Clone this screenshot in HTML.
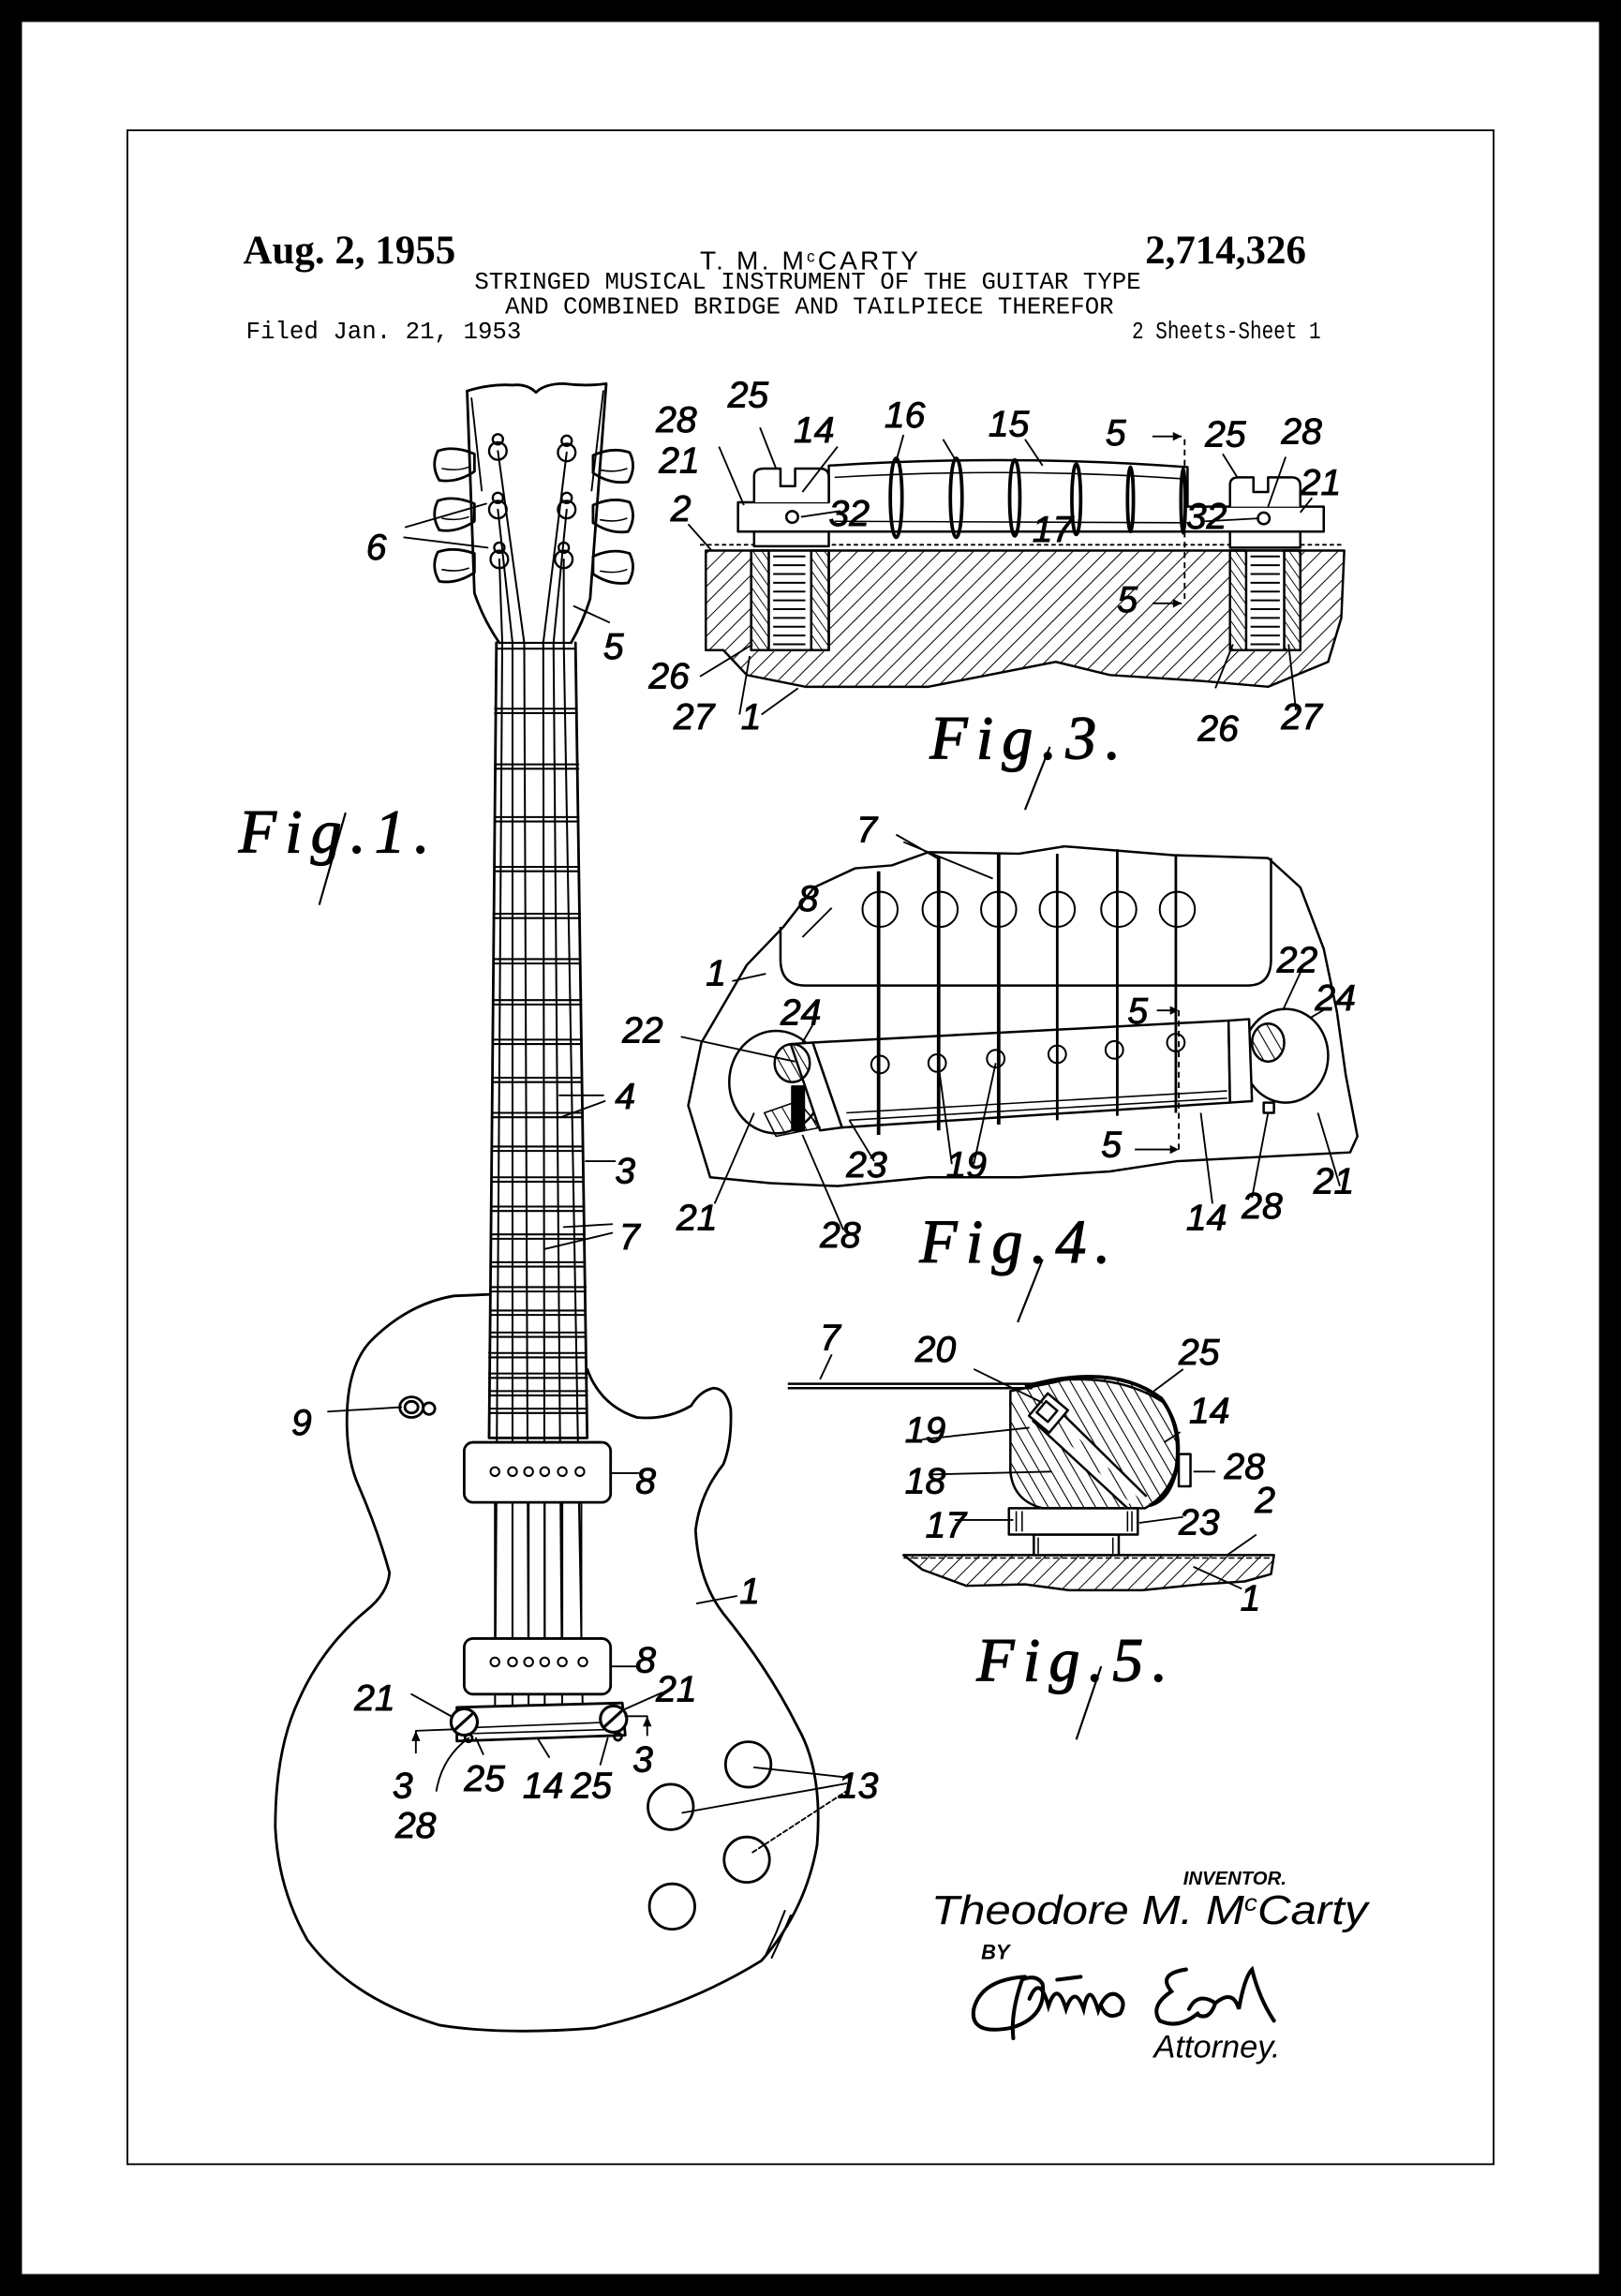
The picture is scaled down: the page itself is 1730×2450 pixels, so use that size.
<!DOCTYPE html>
<html><head><meta charset="utf-8"><style>
html,body{margin:0;padding:0;background:#000;}
svg{display:block;}
.l{font-family:"Liberation Sans",sans-serif;font-style:italic;font-size:25px;fill:#000;stroke:#000;stroke-width:0.6;}
.m{font-family:"Liberation Mono",monospace;font-size:16.5px;fill:#000;}
.fig{font-family:"Liberation Serif",serif;font-style:italic;font-size:42px;fill:#000;stroke:#000;stroke-width:0.8;letter-spacing:6px;}
</style></head><body>
<svg width="1730" height="2450" viewBox="0 0 1107 1568" preserveAspectRatio="none" xmlns="http://www.w3.org/2000/svg">
<defs>
<pattern id="h" patternUnits="userSpaceOnUse" width="8" height="8" patternTransform="rotate(45)"><line x1="0" y1="0" x2="0" y2="8" stroke="#000" stroke-width="1.3"/></pattern>
<pattern id="h2" patternUnits="userSpaceOnUse" width="5" height="5" patternTransform="rotate(-35)"><line x1="0" y1="0" x2="0" y2="5" stroke="#000" stroke-width="1.2"/></pattern>
<pattern id="h3" patternUnits="userSpaceOnUse" width="7" height="7" patternTransform="rotate(-30)"><line x1="0" y1="0" x2="0" y2="7" stroke="#000" stroke-width="1.4"/></pattern>
</defs>
<rect x="0" y="0" width="1107" height="1568" fill="#000"/>
<rect x="15" y="15" width="1077" height="1538" fill="#fff"/>
<rect x="87" y="89" width="933" height="1389" fill="none" stroke="#000" stroke-width="1.2"/>

<!-- header -->
<text x="166" y="180" font-family="Liberation Serif,serif" font-weight="bold" font-size="27.5">Aug. 2, 1955</text>
<text x="478" y="184" font-family="Liberation Sans,sans-serif" font-size="18" letter-spacing="2">T. M. M<tspan font-size="11" dy="-5">c</tspan><tspan dy="5">CARTY</tspan></text>
<text x="782" y="180" font-family="Liberation Serif,serif" font-weight="bold" font-size="27.5">2,714,326</text>
<text class="m" x="324" y="197">STRINGED MUSICAL INSTRUMENT OF THE GUITAR TYPE</text>
<text class="m" x="345" y="214">AND COMBINED BRIDGE AND TAILPIECE THEREFOR</text>
<text class="m" x="168" y="231">Filed Jan. 21, 1953</text>
<text class="m" x="773" y="231" textLength="129" lengthAdjust="spacingAndGlyphs">2 Sheets-Sheet 1</text>

<!-- ================= FIG 1 guitar ================= -->
<g fill="none" stroke="#000" stroke-width="1.8" stroke-linejoin="round" stroke-linecap="round">
<path d="M319,267 Q335,262 350,263 Q360,262 366,268 Q372,262 385,262 Q400,264 414,262 L403,409 Q398,425 390,439 M319,267 L324,405 Q330,423 341,439" />
<path d="M322,272 L329,335 M412,267 L404,335" stroke-width="1.2"/>
<path d="M324,310 Q310,304 299,308 Q294,318 300,328 Q312,330 324,322 Z"/>
<path d="M324,344 Q310,338 299,342 Q294,352 300,362 Q312,364 324,356 Z"/>
<path d="M324,378 Q310,373 299,377 Q294,387 300,397 Q312,399 324,391 Z"/>
<path d="M405,311 Q418,305 430,309 Q435,319 429,329 Q417,331 405,323 Z"/>
<path d="M405,345 Q418,339 430,343 Q435,353 429,363 Q417,365 405,357 Z"/>
<path d="M405,380 Q418,374 430,378 Q435,388 429,398 Q417,400 405,392 Z"/>
<path d="M302,320 Q312,322 320,319 M302,354 Q312,356 320,353 M302,389 Q312,391 320,388 M410,321 Q420,323 428,320 M410,355 Q420,357 428,354 M410,390 Q420,392 428,389" stroke-width="1"/>
<g stroke-width="1.5">
<circle cx="340" cy="308" r="6"/><circle cx="340" cy="300" r="3.5"/>
<circle cx="340" cy="348" r="6"/><circle cx="340" cy="340" r="3.5"/>
<circle cx="341" cy="382" r="6"/><circle cx="341" cy="374" r="3.5"/>
<circle cx="387" cy="309" r="6"/><circle cx="387" cy="301" r="3.5"/>
<circle cx="387" cy="348" r="6"/><circle cx="387" cy="340" r="3.5"/>
<circle cx="385" cy="382" r="6"/><circle cx="385" cy="374" r="3.5"/>
</g>
<path d="M339,439 L334,982 M393,439 L401,982 M334,982 L401,982"/>
<path d="M341,439 L390,439 M339,443 L393,443" stroke-width="1.4"/>
<g stroke-width="1.3">
<path d="M338,484H394M338,487H394M338,522H395M338,525H395M338,558H395M338,561H395M338,592H395M338,595H395M337,624H396M337,627H396M337,655H396M337,658H396M337,683H397M337,686H397M337,710H397M337,713H397M337,736H397M337,739H397M336,760H398M336,763H398M336,783H398M336,786H398M336,804H398M336,807H398M336,824H399M336,827H399M335,843H399M335,846H399M335,862H399M335,865H399M335,879H400M335,882H400M335,895H400M335,898H400M335,910H400M335,913H400M334,924H400M334,927H400M334,938H401M334,941H401M334,950H401M334,953H401M334,962H401M334,965H401"/>
</g>
<g stroke-width="1.3">
<path d="M341,382 L343,439 L338,1172"/>
<path d="M340,348 L350,439 L350,1172"/>
<path d="M340,308 L358,439 L361,1172"/>
<path d="M387,309 L371,439 L372,1172"/>
<path d="M387,348 L378,439 L384,1172"/>
<path d="M385,382 L385,439 L398,1172"/>
</g>
<path d="M334,884 L310,885 Q280,890 255,914 Q238,930 237,965 Q236,995 245,1015 Q258,1045 266,1074 Q265,1088 250,1100 Q220,1125 204,1161 Q188,1195 188,1248 Q190,1290 210,1325 Q240,1365 300,1383 Q343,1390 406,1385 Q470,1370 520,1339 Q550,1305 558,1260 Q562,1210 545,1180 Q525,1140 494,1102 Q477,1080 475,1045 Q478,1020 494,1000 Q500,985 499,962 Q496,948 487,948 Q478,950 472,960 Q455,970 435,968 Q410,960 401,935"/>
<rect x="317" y="985" width="100" height="41" rx="6" fill="#fff"/>
<rect x="317" y="1119" width="100" height="38" rx="6" fill="#fff"/>
<g stroke-width="1.3" fill="#fff">
<circle cx="338" cy="1005" r="3"/><circle cx="350" cy="1005" r="3"/><circle cx="361" cy="1005" r="3"/><circle cx="372" cy="1005" r="3"/><circle cx="384" cy="1005" r="3"/><circle cx="396" cy="1005" r="3"/>
<circle cx="338" cy="1135" r="3"/><circle cx="350" cy="1135" r="3"/><circle cx="361" cy="1135" r="3"/><circle cx="372" cy="1135" r="3"/><circle cx="384" cy="1135" r="3"/><circle cx="398" cy="1135" r="3"/>
</g>
<path d="M338,1026V1119M350,1026V1119M361,1026V1119M372,1026V1119M384,1026V1119M397,1026V1119" stroke-width="1.3"/>
<path d="M312,1166 L425,1163 L427,1185 L312,1189 Z" fill="#fff"/>
<path d="M318,1180 L420,1176 M318,1184 L420,1181" stroke-width="1"/>
<circle cx="317" cy="1176" r="9" fill="#fff" stroke-width="2"/>
<circle cx="419" cy="1174" r="9" fill="#fff" stroke-width="2"/>
<path d="M311,1181 L322,1171 M413,1179 L424,1169" stroke-width="2"/>
<circle cx="320" cy="1187" r="2.5"/><circle cx="422" cy="1186" r="2.5"/>
<ellipse cx="281" cy="961" rx="8" ry="7"/><ellipse cx="281" cy="961" rx="4.5" ry="4"/><circle cx="293" cy="962" r="4"/>
<circle cx="511" cy="1205" r="15.5"/><circle cx="458" cy="1234" r="15.5"/><circle cx="510" cy="1270" r="15.5"/><circle cx="459" cy="1302" r="15.5"/>
<path d="M523,1335 L530,1320 L536,1305 M527,1337 L534,1322 L540,1308" stroke-width="1.3"/>
<g stroke-width="1.2">
<path d="M277,360 L332,344 M276,367 L333,374"/>
<path d="M392,414 L416,425"/>
<path d="M382,748 L412,748 M383,763 L413,752"/>
<path d="M400,793 L420,793"/>
<path d="M385,838 L418,836 M372,853 L418,842"/>
<path d="M224,964 L274,961"/>
<path d="M417,1006 L436,1006 M417,1138 L436,1138"/>
<path d="M476,1095 L503,1090"/>
<path d="M281,1157 L308,1172 M425,1168 L452,1156"/>
<path d="M284,1182 L310,1181 M284,1182 L284,1197"/>
<path d="M427,1172 L442,1172 L442,1185"/>
<path d="M320,1187 Q302,1200 298,1223 M325,1187 L330,1198 M367,1187 L375,1200 M415,1187 L410,1205"/>
<path d="M515,1207 L580,1214 M466,1238 L578,1218"/>
<path d="M514,1265 L580,1222" stroke-dasharray="3,2"/>
</g>
</g>
<path d="M284,1182 l-3,7 h6 z M442,1172 l-3,7 h6 z" fill="#000"/>
<text class="l" x="250" y="382">6</text>
<text class="l" x="412" y="450">5</text>
<text class="l" x="420" y="757">4</text>
<text class="l" x="420" y="808">3</text>
<text class="l" x="423" y="853">7</text>
<text class="l" x="199" y="980">9</text>
<text class="l" x="434" y="1020">8</text>
<text class="l" x="434" y="1142">8</text>
<text class="l" x="505" y="1095">1</text>
<text class="l" x="242" y="1168">21</text>
<text class="l" x="448" y="1162">21</text>
<text class="l" x="268" y="1228">3</text>
<text class="l" x="317" y="1223">25</text>
<text class="l" x="357" y="1228">14</text>
<text class="l" x="390" y="1228">25</text>
<text class="l" x="432" y="1210">3</text>
<text class="l" x="270" y="1255">28</text>
<text class="l" x="572" y="1228">13</text>
<text class="fig" x="163" y="582">Fig.1.</text>
<path d="M236,555 L218,618" stroke="#000" stroke-width="1.4"/>

<!-- ================= FIG 3 ================= -->
<g stroke="#000" stroke-width="1.6" fill="none" stroke-linejoin="round">
<path d="M482,376 L918,376 L916,422 L907,452 L866,469 L820,465 L758,461 L721,452 L634,469 L550,469 L510,461 L494,444 L482,444 Z" fill="url(#h)"/>
<path d="M478,372 L918,372" stroke-dasharray="3,2" stroke-width="1.2"/>
<rect x="513" y="376" width="53" height="68" fill="#fff"/>
<rect x="513" y="376" width="12" height="68" fill="url(#h2)"/>
<rect x="554" y="376" width="12" height="68" fill="url(#h2)"/>
<rect x="840" y="376" width="48" height="68" fill="#fff"/>
<rect x="840" y="376" width="11" height="68" fill="url(#h2)"/>
<rect x="877" y="376" width="11" height="68" fill="url(#h2)"/>
<path d="M528,380h22M528,386h22M528,392h22M528,398h22M528,404h22M528,410h22M528,416h22M528,422h22M528,428h22M528,434h22M528,440h22M854,380h20M854,386h20M854,392h20M854,398h20M854,404h20M854,410h20M854,416h20M854,422h20M854,428h20M854,434h20M854,440h20" stroke-width="1.3"/>
<rect x="515" y="363" width="51" height="10" fill="#fff"/>
<rect x="840" y="363" width="48" height="11" fill="#fff"/>
<path d="M566,318 Q690,310 811,319 L811,346 L904,346 L904,363 L504,363 L504,343 L566,343 Z" fill="#fff"/>
<path d="M570,326 Q690,319 808,327 M570,356 L808,357" stroke-width="1"/>
<path d="M515,343 L515,325 Q515,320 522,320 L533,320 L533,332 L543,332 L543,320 L560,320 Q566,320 566,326 L566,343" fill="#fff"/>
<path d="M840,346 L840,331 Q840,326 846,326 L856,326 L856,336 L866,336 L866,326 L882,326 Q888,326 888,332 L888,346" fill="#fff"/>
<circle cx="541" cy="353" r="4"/><circle cx="863" cy="354" r="4"/>
<g stroke-width="2.4">
<ellipse cx="612" cy="340" rx="4" ry="27"/>
<ellipse cx="653" cy="340" rx="4" ry="27"/>
<ellipse cx="693" cy="340" rx="3.5" ry="26"/>
<ellipse cx="735" cy="341" rx="3" ry="24"/>
<ellipse cx="772" cy="341" rx="2" ry="22"/>
<ellipse cx="808" cy="342" rx="1.5" ry="22"/>
</g>
<path d="M809,300 L809,411" stroke-dasharray="4,3" stroke-width="1.2"/>
<path d="M787,298 L807,298 M787,412 L807,412" stroke-width="1.2"/>
<g stroke-width="1.2">
<path d="M491,305 L508,345 M519,292 L530,320 M572,305 L548,336 M617,297 L612,315 M644,300 L653,315 M700,300 L712,318 M470,358 L486,376 M547,353 L574,349 M835,310 L845,326 M878,312 L866,346 M896,340 L888,350 M823,356 L860,354 M478,462 L514,440 M505,488 L512,448 M520,488 L545,470 M830,470 L842,440 M885,485 L880,440"/>
</g>
</g>
<path d="M807,298 l-6,-3 v6 z M807,412 l-6,-3 v6 z" fill="#000"/>
<text class="l" x="448" y="295">28</text>
<text class="l" x="497" y="278">25</text>
<text class="l" x="542" y="302">14</text>
<text class="l" x="604" y="292">16</text>
<text class="l" x="675" y="298">15</text>
<text class="l" x="755" y="304" font-size="20">5</text>
<text class="l" x="823" y="305">25</text>
<text class="l" x="875" y="303">28</text>
<text class="l" x="450" y="323">21</text>
<text class="l" x="888" y="338">21</text>
<text class="l" x="458" y="356">2</text>
<text class="l" x="566" y="359" font-size="20">32</text>
<text class="l" x="810" y="361" font-size="18">32</text>
<text class="l" x="705" y="370" font-size="16">17</text>
<text class="l" x="763" y="418" font-size="20">5</text>
<text class="l" x="443" y="470">26</text>
<text class="l" x="460" y="498">27</text>
<text class="l" x="506" y="498">1</text>
<text class="l" x="818" y="506">26</text>
<text class="l" x="875" y="498">27</text>
<text class="fig" x="635" y="518">Fig.3.</text>
<path d="M717,510 L700,553" stroke="#000" stroke-width="1.4"/>

<!-- ================= FIG 4 ================= -->
<g stroke="#000" stroke-width="1.6" fill="none" stroke-linejoin="round">
<path d="M485,804 L470,755 L479,712 L510,659 L535,633 L556,606 L584,593 L609,591 L634,582 L696,583 L727,578 L801,584 L866,586 L888,606 L904,648 L913,691 L919,734 L927,776 L922,787 L882,789 L804,793 L758,800 L696,804 L634,804 L572,810 L526,808 Z"/>
<path d="M533,633 L533,655 Q533,673 550,673 L852,673 Q868,673 868,655 L868,586"/>
<g stroke-width="1.3">
<ellipse cx="601" cy="621" rx="12" ry="12"/><ellipse cx="642" cy="621" rx="12" ry="12"/><ellipse cx="682" cy="621" rx="12" ry="12"/><ellipse cx="722" cy="621" rx="12" ry="12"/><ellipse cx="764" cy="621" rx="12" ry="12"/><ellipse cx="804" cy="621" rx="12" ry="12"/>
</g>
<ellipse cx="530" cy="739" rx="32" ry="35" fill="#fff"/>
<ellipse cx="878" cy="721" rx="29" ry="32" fill="#fff"/>
<path d="M555,712 L839,697 L840,753 L575,770 Z" fill="#fff"/>
<path d="M540,713 L555,712 L575,770 L560,772 Z" fill="#fff"/>
<path d="M839,697 L853,696 L855,752 L840,753 Z" fill="#fff"/>
<ellipse cx="541" cy="726" rx="12" ry="13" fill="url(#h3)"/>
<ellipse cx="866" cy="712" rx="11" ry="13" fill="url(#h3)"/>
<path d="M522,760 L545,752 L560,770 L530,776 Z" fill="url(#h3)" stroke-width="1"/>
<rect x="541" y="742" width="8" height="30" fill="#000"/>
<rect x="863" y="753" width="7" height="7" fill="#fff"/>
<g stroke-width="1.3" fill="#fff">
<ellipse cx="601" cy="727" rx="6" ry="6"/><ellipse cx="640" cy="726" rx="6" ry="6"/><ellipse cx="680" cy="723" rx="6" ry="6"/><ellipse cx="722" cy="720" rx="6" ry="6"/><ellipse cx="761" cy="717" rx="6" ry="6"/><ellipse cx="803" cy="712" rx="6" ry="6"/>
</g>
<path d="M578,760 L838,745 M580,765 L838,750" stroke-width="1"/>
<g stroke-width="2.4">
<path d="M600,595 V775 M641,585 V772 M682,583 V768"/>
</g>
<g stroke-width="1.8">
<path d="M722,583 V765 M763,580 V762 M803,584 V760"/>
</g>
<path d="M805,690 L805,785" stroke-dasharray="4,3" stroke-width="1.2"/>
<g stroke-width="1.2">
<path d="M612,570 L640,586 M617,575 L678,600 M568,620 L548,640 M500,670 L523,665 M465,708 L543,725 M555,700 L548,712 M890,660 L876,690 M907,688 L895,695 M790,690 L803,690 M775,785 L803,785 M597,793 L580,765 M650,795 L641,728 M665,795 L680,726 M488,822 L515,760 M576,840 L548,775 M828,822 L820,760 M855,818 L866,760 M915,810 L900,760"/>
</g>
</g>
<path d="M805,690 l-6,-3 v6 z M805,785 l-6,-3 v6 z" fill="#000"/>
<text class="l" x="585" y="575">7</text>
<text class="l" x="545" y="622">8</text>
<text class="l" x="482" y="673">1</text>
<text class="l" x="425" y="712">22</text>
<text class="l" x="533" y="700">24</text>
<text class="l" x="872" y="664">22</text>
<text class="l" x="898" y="690">24</text>
<text class="l" x="770" y="699" font-size="20">5</text>
<text class="l" x="578" y="804">23</text>
<text class="l" x="646" y="804">19</text>
<text class="l" x="752" y="790" font-size="20">5</text>
<text class="l" x="462" y="840">21</text>
<text class="l" x="560" y="852">28</text>
<text class="l" x="810" y="840">14</text>
<text class="l" x="848" y="832">28</text>
<text class="l" x="897" y="815">21</text>
<text class="fig" x="628" y="862">Fig.4.</text>
<path d="M712,860 L695,903" stroke="#000" stroke-width="1.4"/>

<!-- ================= FIG 5 ================= -->
<g stroke="#000" stroke-width="1.6" fill="none" stroke-linejoin="round">
<path d="M617,1062 L870,1062 L868,1075 L850,1080 L820,1082 L780,1086 L730,1086 L700,1082 L660,1083 L630,1072 Z" fill="url(#h)"/>
<path d="M617,1064 L868,1064" stroke-dasharray="4,2" stroke-width="1"/>
<rect x="706" y="1048" width="58" height="14" fill="#fff"/>
<rect x="689" y="1030" width="88" height="18" fill="#fff"/>
<path d="M694,1032V1046M698,1032V1046M770,1032V1046M773,1032V1046M709,1050V1061M760,1050V1061" stroke-width="1"/>
<path d="M690,958 L690,1005 Q692,1025 712,1030 L782,1030 Q803,1018 805,990 Q805,958 778,946 Q748,936 720,944 L690,950 Z" fill="url(#h3)"/>
<path d="M700,947 Q760,930 793,955 Q808,975 803,1005 Q798,1025 785,1028" stroke-width="2.5"/>
<path d="M708,968 L770,1028 M716,958 L780,1022" stroke="#fff" stroke-width="5"/>
<path d="M705,970 L770,1030 M718,958 L783,1022" stroke-width="1.6"/>
<rect x="707" y="955" width="18" height="20" transform="rotate(40 716 965)" fill="#fff"/>
<rect x="710" y="959" width="10" height="10" transform="rotate(40 715 964)"/>
<rect x="805" y="993" width="8" height="22" fill="#fff"/>
<path d="M538,945 L705,945 Q760,935 795,958 M538,948 L705,948" stroke-width="1.6"/>
<g stroke-width="1.2">
<path d="M560,942 L568,925 M665,935 L712,958 M788,950 L808,935 M630,983 L703,975 M806,978 L795,985 M634,1007 L718,1005 M815,1005 L830,1005 M652,1038 L692,1038 M778,1040 L808,1036 M838,1062 L858,1048 M815,1070 L848,1085"/>
</g>
</g>
<text class="l" x="560" y="922">7</text>
<text class="l" x="625" y="930">20</text>
<text class="l" x="805" y="932">25</text>
<text class="l" x="618" y="985">19</text>
<text class="l" x="812" y="972">14</text>
<text class="l" x="618" y="1020">18</text>
<text class="l" x="836" y="1010">28</text>
<text class="l" x="632" y="1050">17</text>
<text class="l" x="805" y="1048">23</text>
<text class="l" x="857" y="1033">2</text>
<text class="l" x="847" y="1100">1</text>
<text class="fig" x="667" y="1148">Fig.5.</text>
<path d="M752,1138 L735,1188" stroke="#000" stroke-width="1.4"/>

<!-- signature block -->
<text x="808" y="1287" font-family="Liberation Sans,sans-serif" font-style="italic" font-weight="bold" font-size="13">INVENTOR.</text>
<text x="636" y="1314" font-family="Liberation Sans,sans-serif" font-style="italic" font-size="28" textLength="298" lengthAdjust="spacingAndGlyphs">Theodore M. M<tspan font-size="16" dy="-9">c</tspan><tspan dy="9">Carty</tspan></text>
<text x="670" y="1338" font-family="Liberation Sans,sans-serif" font-style="italic" font-weight="bold" font-size="14">BY</text>
<g fill="none" stroke="#000" stroke-width="2.6" stroke-linecap="round">
<path d="M700,1350 Q670,1352 665,1372 Q662,1390 690,1385 Q715,1378 712,1355 Q708,1348 698,1352 Q690,1375 692,1392"/>
<path d="M703,1365 Q710,1348 716,1370 Q722,1352 728,1372 Q734,1355 740,1372 Q744,1352 750,1373 Q755,1360 762,1362 Q770,1366 765,1375 Q756,1380 752,1370 M722,1352 L738,1350"/>
<path d="M810,1345 Q790,1348 800,1360 Q785,1370 792,1380 Q805,1386 818,1375 M812,1372 Q818,1360 830,1368 Q826,1380 818,1376 M830,1368 Q842,1358 846,1372 Q850,1350 855,1345 Q860,1365 870,1380"/>
</g>
<text x="788" y="1405" font-family="Liberation Sans,sans-serif" font-style="italic" font-size="22">Attorney.</text>
</svg>
</body></html>
